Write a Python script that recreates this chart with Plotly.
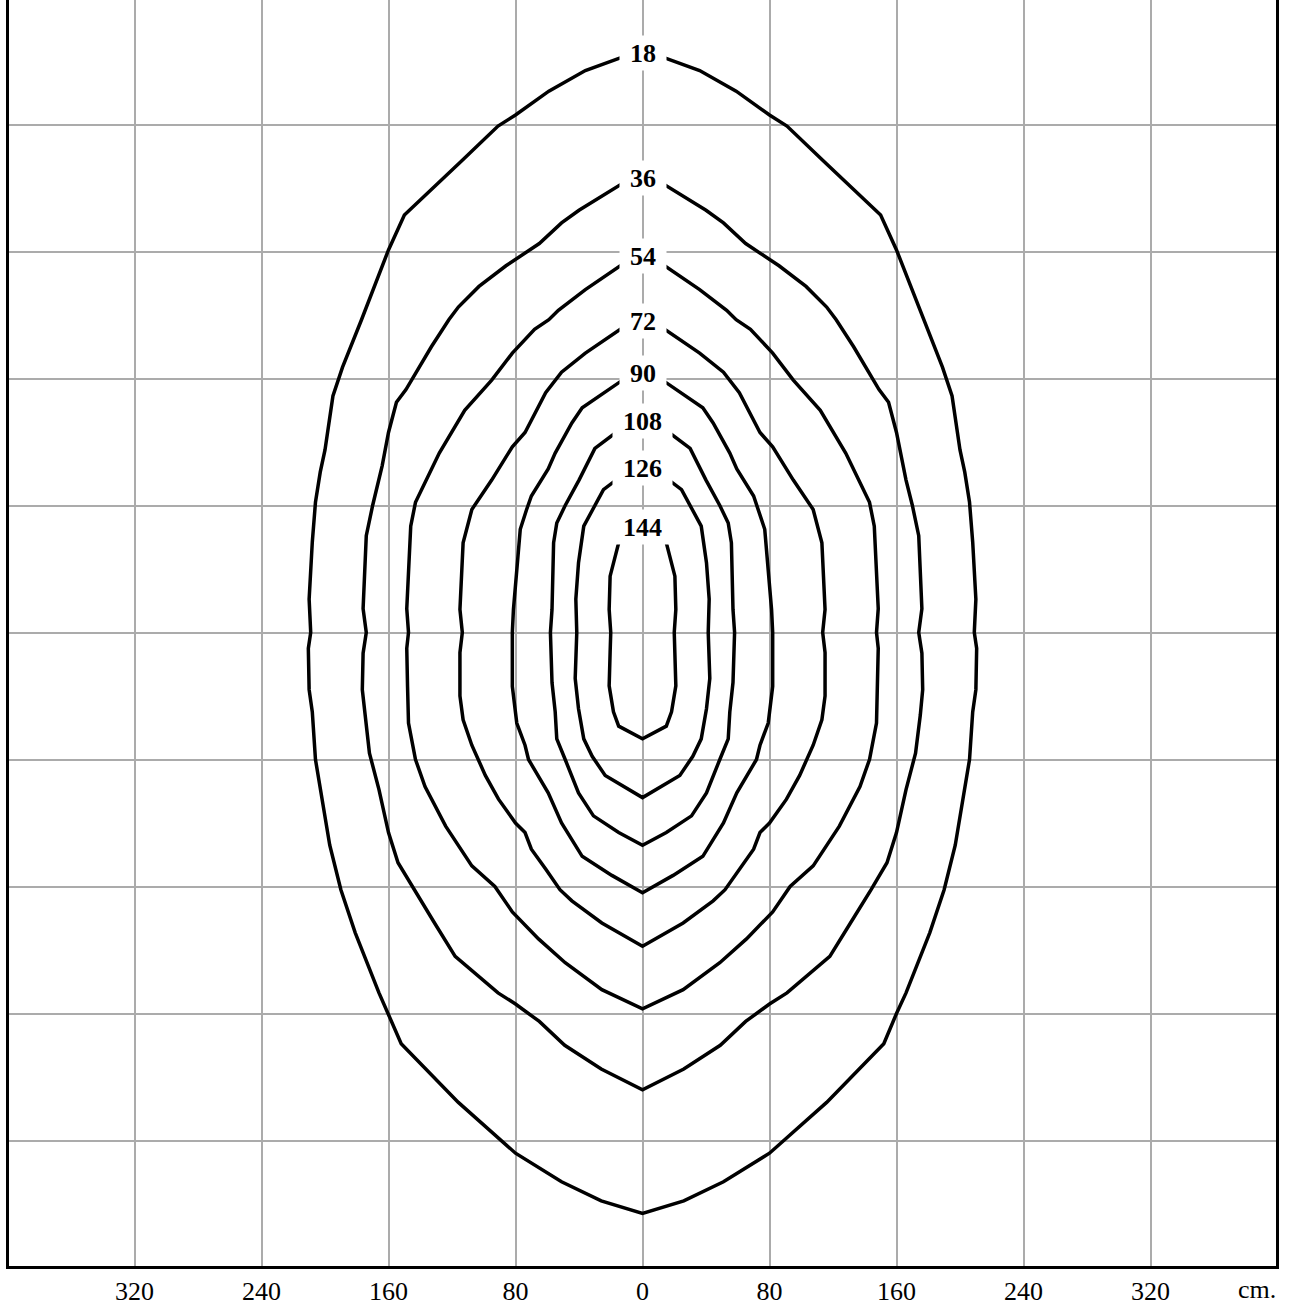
import plotly.graph_objects as go

# Isolux levels and label positions (cm)
levels = [18, 36, 54, 72, 90, 108, 126, 144]
label_y = [365, 286, 237, 196.5, 163.5, 133.5, 103.5, 66.5]

# Right-half profiles of each contour (x >= 0), from top (x=0) to bottom (x=0)
c18_x = [0, 14, 36, 59, 80, 91, 114, 150, 160, 177, 181, 189, 195, 200, 203, 206, 208, 210, 209, 210.5, 210, 208, 206, 200, 197, 190, 181, 166, 160, 152, 116, 80, 51, 26, 0]
c18_y = [366, 362, 354, 341, 326, 319, 297, 263, 241, 197, 187, 167, 149, 115, 101, 82, 57, 21, 0, -10, -36, -50, -80, -115, -134, -162, -189, -227, -240, -259, -296, -328, -346, -358, -366]

c36_x = [0, 14, 40, 51, 65, 86, 103, 116, 122, 133, 149, 155, 160, 164, 166, 170, 174, 176, 174, 176, 176.5, 175, 172, 166, 160, 154, 144, 131, 118, 91, 80, 65, 49, 26, 0]
c36_y = [287, 282, 266, 258, 245, 231, 218, 205, 197, 180, 153, 145, 126, 105, 96, 80, 61, 15, 0, -13, -36, -52, -76, -99, -126, -145, -162, -183, -204, -227, -234, -245, -260, -275, -288]

c54_x = [0, 14, 36, 53, 59, 68, 82, 91, 95, 112, 128, 143, 146, 148.5, 147.4, 148.5, 148, 147.4, 143, 137, 124, 107.5, 93, 82, 65.5, 48.7, 25.6, 0]
c54_y = [237, 231, 216, 203, 197, 191, 176, 164, 159, 140, 113, 82, 67, 15, 0, -10, -34, -57, -80, -97, -122, -147, -160, -176, -193, -208, -225, -237]

c72_x = [0, 14, 36, 51, 61, 72, 74, 82, 95, 107.5, 113, 115, 113.5, 115, 115, 113, 107.5, 99, 90.7, 80, 74, 70, 61, 52, 44.5, 25.6, 0]
c72_y = [197, 191, 176, 164, 151, 130, 126, 117, 96, 77.5, 56.5, 14.5, 0, -12.6, -40, -55, -71, -90, -105, -120, -126, -136.5, -149, -162, -169, -183, -197.6]

c90_x = [0, 14, 38, 44.5, 55, 59.4, 70, 73, 77, 81.3, 82, 82, 79.2, 74, 71.8, 59.4, 51, 38, 19.3, 0]
c90_y = [164, 158, 141.5, 132, 113, 103, 86, 77.5, 65, 14.5, 0, -34, -57, -71, -80, -101, -120, -141, -153, -164]

c108_x = [0, 18, 30, 40, 48.7, 54, 56, 57, 58, 57, 55, 54, 48.7, 40.3, 30.9, 15, 0]
c108_y = [134, 125, 116, 96, 80, 69, 56.5, 14.5, 0, -31.5, -50, -67, -80, -101, -115.5, -126, -134]

c126_x = [0, 18, 24.6, 37, 40.3, 42, 41.4, 42.4, 40.3, 37, 31.7, 23.5, 0]
c126_y = [104, 95, 90, 67, 44, 21, 0, -29, -48, -67, -78, -90, -104]

c144_x = [0, 15, 20.4, 21, 20, 20.4, 21, 18.3, 15, 0]
c144_y = [67, 56.5, 35.5, 14.5, 0, -12.6, -33.6, -50, -59, -67]

halves = [(c18_x, c18_y), (c36_x, c36_y), (c54_x, c54_y), (c72_x, c72_y),
          (c90_x, c90_y), (c108_x, c108_y), (c126_x, c126_y), (c144_x, c144_y)]

# Axis ticks
grid_vals = [-320, -240, -160, -80, 0, 80, 160, 240, 320]
tick_text = ["320", "240", "160", "80", "0", "80", "160", "240", "320"]

FONT = "Liberation Serif, Times New Roman, serif"

fig = go.Figure()
for lvl, (hx, hy) in zip(levels, halves):
    xs = list(hx) + [-v for v in reversed(hx)]
    ys = list(hy) + list(reversed(hy))
    fig.add_trace(go.Scatter(x=xs, y=ys, mode="lines",
                             line=dict(color="black", width=3.5),
                             name=str(lvl), hoverinfo="skip"))

for lvl, ly in zip(levels, label_y):
    txt = str(lvl)
    fig.add_annotation(x=0, y=ly, xref="x", yref="y", text="<b>" + txt + "</b>",
                       showarrow=False, bgcolor="white", borderpad=0,
                       width=13 * len(txt) + 20, height=34,
                       font=dict(family=FONT, size=26, color="black"))

fig.add_annotation(x=387, y=0, xref="x", yref="paper", text="cm.",
                   showarrow=False, yanchor="top", yshift=-7,
                   font=dict(family=FONT, size=26, color="black"))

s = 1.5875  # px per cm
fig.update_layout(
    width=1304, height=1308,
    margin=dict(l=9, r=28, t=0, b=42),
    paper_bgcolor="white", plot_bgcolor="white",
    showlegend=False,
    xaxis=dict(range=[-400 + 1.5 / s, 400 - 1.5 / s],
               tickvals=grid_vals, ticktext=tick_text,
               showgrid=True, gridcolor="#ababab", gridwidth=1.5,
               zeroline=False, showline=True, linecolor="black", linewidth=3,
               mirror=False, ticks="", fixedrange=True,
               tickfont=dict(family=FONT, size=26, color="black")),
    yaxis=dict(range=[-400 + 1.5 / s, -400 + 1.5 / s + 1266 / s],
               tickvals=grid_vals, showticklabels=False,
               showgrid=True, gridcolor="#ababab", gridwidth=1.5,
               zeroline=False, showline=True, linecolor="black", linewidth=3,
               mirror=True, ticks="", fixedrange=True),
)

fig.write_html("out.html", config={"displayModeBar": False},
               post_script="document.body.style.margin='0';document.body.style.overflow='hidden';")
